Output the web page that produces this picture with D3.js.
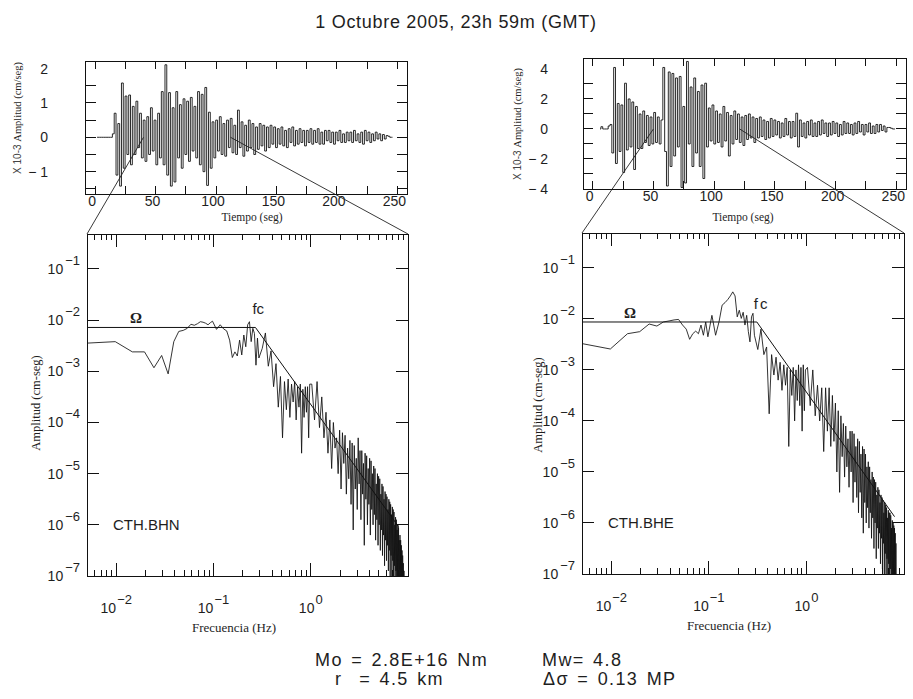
<!DOCTYPE html>
<html>
<head>
<meta charset="utf-8">
<script src="https://cdn.jsdelivr.net/npm/d3@7/dist/d3.min.js"></script>
<style>
  body { margin: 0; background: #fff; }
  .sans { font-family: 'Liberation Sans', Arial, sans-serif; }
  .serif { font-family: 'Liberation Serif', 'Times New Roman', serif; }
  text { fill: #1e1e1e; }
</style>
</head>
<body>
<svg id="chart" width="913" height="699"></svg>
<script>
// ---- data ----

// seismograms, velocity in 10^-3 cm/seg, one sample every 1.5 s
const sampleStep = 1.5
const bhnStart = 1.5
const bhnVelocity = [
  0, 0, 0, 0, 0, 0, 0, 0, 0,
  0.1, 0.7, -1.1, 0.4, -1.42, 1.58, -0.9, 1.2, -0.5, 1.23,
  -0.8, 0.9, -0.5, 1.05, -0.3, 0.7, -0.6, 0.5, -0.7, 0.6,
  -0.5, 0.86, -0.4, 0.5, -0.8, 0.7, -0.6, 1.33, -0.8, 2.11,
  -1.1, 1.3, -1.42, 0.86, -1.3, 1.33, -0.6, 0.95, -0.9, 1.12,
  -0.5, 1.05, -0.7, 1.16, -0.4, 0.9, -0.6, 1.33, -0.8, 1.25,
  -1.0, 1.45, -1.4, 0.73, -0.9, 0.45, -0.6, 0.5, -0.4, 0.6,
  -0.5, 0.4, -0.55, 0.5, -0.3, 0.55, -0.45, 0.35, -0.5, 0.79,
  -0.3, 0.45, -0.55, 0.35, -0.4, 0.5, -0.3, 0.4, -0.5, 0.3,
  -0.35, 0.4, -0.25, 0.35, -0.4, 0.3, -0.3, 0.35, -0.2, 0.3,
  -0.3, 0.25, -0.2, 0.3, -0.25, 0.2, -0.3, 0.25, -0.15, 0.3,
  -0.25, 0.2, -0.2, 0.25, -0.15, 0.2, -0.25, 0.2, -0.15, 0.25,
  -0.2, 0.2, -0.15, 0.25, -0.2, 0.15, -0.2, 0.2, -0.1, 0.2,
  -0.15, 0.15, -0.2, 0.15, -0.1, 0.2, -0.15, 0.1, -0.15, 0.15,
  -0.1, 0.15, -0.15, 0.2, -0.1, 0.1, -0.15, 0.15, -0.2, 0.2,
  -0.1, 0.15, -0.15, 0.1, -0.1, 0.15, -0.05, 0.1, -0.1, 0.08,
  -0.05, 0.05, 0.03, 0, 0
]
const bheStart = 6
const bheVelocity = [
  0, 0.15, 0, 0, 0, 0.2,
  0.3, -1.6, 4.1, -2.3, 1.7, -1.5, 1.6, -2.9, 3.05, -1.4,
  2.0, -1.2, 1.8, -2.7, 1.5, -1.3, 1.0, -1.3, 1.2, -0.9,
  0.9, -1.1, 0.8, -1.0, 1.1, -0.9, 0.8, -1.0, 0.6, 4.1,
  -1.5, -3.8, 3.8, -2.5, 3.7, -1.8, 3.4, -1.2, 3.5, -3.9,
  1.5, -3.6, 4.5, -1.0, 2.8, -2.5, 3.4, -1.6, 2.5, -2.5,
  2.93, -3.3, 3.05, -1.2, 1.4, -0.8, 1.6, -1.0, 1.2, -0.9,
  1.0, -1.2, 1.5, -0.8, 1.1, -1.8, 0.9, -1.0, 1.2, -0.7,
  1.0, -0.9, 0.8, -1.1, 0.9, -0.7, 1.0, -0.6, 0.8, -0.9,
  0.7, -0.6, 0.8, -0.5, 0.6, -0.7, 0.5, -0.6, 0.7, -0.5,
  0.6, -0.4, 0.5, -0.6, 0.4, -0.5, 0.7, -0.4, 0.5, -0.6,
  0.5, -0.5, 1.05, -1.2, 0.6, -0.5, 0.4, -0.6, 0.5, -0.4,
  0.6, -0.5, 0.4, -0.5, 0.5, -0.4, 0.6, -0.3, 0.4, -0.5,
  0.4, -0.4, 0.5, -0.3, 0.4, -0.5, 0.3, -0.4, 0.5, -0.3,
  0.4, -0.3, 0.3, -0.4, 0.4, -0.3, 0.5, -0.2, 0.3, -0.4,
  0.3, -0.2, 0.4, -0.3, 0.2, -0.3, 0.3, -0.2, 0.3, -0.1,
  0.2, -0.2, 0.1, 0.1, 0.05, 0, 0
]

const timeDomain = [-8, 258]
const timeTicks = [0, 25, 50, 75, 100, 125, 150, 175, 200, 225, 250]
const timeLabels = [0, 50, 100, 150, 200, 250]
const bhnVelDomain = [-1.65, 2.22]
const bhnVelTicks = [-1.5, -1, -0.5, 0, 0.5, 1, 1.5]
const bhnVelLabels = [-1, 0, 1, 2]
const bheVelDomain = [-4.0, 4.73]
const bheVelTicks = [-3, -2, -1, 0, 1, 2, 3]
const bheVelLabels = [-4, -2, 0, 2, 4]

// time window (s) used for each spectrum
const bhnWindow = [40, 112]
const bheWindow = [50, 121]

// displacement spectra, log10 amplitude (cm-seg) on FFT bins k, f = k * df
const df = 0.00488
const lowBins = [1, 2, 3, 4, 5, 6, 7, 8, 9, 10, 11, 12, 13, 14, 15, 16, 17, 18, 19, 20,
  22, 24, 26, 28, 30, 32, 34, 36, 38, 40, 42, 44, 46, 48, 50, 52, 54, 56, 58, 60]
const midBins = d3.range(65, 201, 5)
const highBins = d3.range(210, 1891, 14)

const bhnLow = [-2.45, -2.42, -2.62, -2.62, -2.93, -2.69, -3.05, -2.42, -2.22, -2.20,
  -2.16, -2.08, -2.10, -2.07, -2.03, -2.04, -2.06, -2.09, -2.05, -2.02,
  -2.18, -2.09, -2.17, -2.21, -2.39, -2.73, -2.62, -2.70, -2.39, -2.68,
  -2.29, -2.52, -2.09, -2.03, -2.42, -2.16, -2.26, -2.88, -2.35, -2.74]
const bhnMid = [-2.55, -2.25, -2.9, -2.6, -3.3, -2.85, -3.7, -3.1, -4.3, -3.2,
  -3.75, -3.15, -3.9, -3.25, -3.6, -3.2, -3.95, -3.3, -3.7, -3.25,
  -4.6, -3.35, -3.9, -3.3, -3.8, -3.3, -4.3, -3.25]
const bhnHigh = [
  -3.25, -3.95, -3.2, -4.1, -3.5, -4.3, -3.8, -4.6, -3.95, -4.9,
  -4.0, -4.5, -4.3, -5.0, -4.15, -5.3, -4.2, -4.8, -4.25, -5.4,
  -4.5, -5.1, -4.35, -5.6, -4.4, -6.1, -4.45, -5.3, -4.7, -5.7,
  -4.3, -5.2, -4.55, -5.9, -4.55, -5.4, -4.8, -6.4, -4.6, -5.5,
  -4.65, -6.0, -4.9, -5.6, -4.7, -6.2, -4.75, -5.7, -5.0, -6.0,
  -4.85, -5.8, -4.9, -6.3, -5.2, -5.9, -5.0, -6.4, -5.05, -6.0,
  -5.1, -6.5, -5.4, -6.1, -5.2, -6.6, -5.25, -6.2, -5.5, -6.8,
  -5.35, -6.3, -5.4, -6.7, -5.45, -6.4, -5.7, -6.9, -5.5, -6.5,
  -5.55, -7.0, -5.6, -6.6, -5.8, -7.1, -5.65, -6.7, -5.7, -7.2,
  -5.75, -6.8, -6.0, -7.3, -5.85, -6.9, -5.9, -7.3, -6.1, -7.0,
  -6.0, -7.4, -6.05, -7.1, -6.3, -7.5, -6.2, -7.2, -6.3, -7.5,
  -6.4, -7.4, -6.5, -7.6, -6.6, -7.5, -6.75, -7.6, -6.9, -7.6,
  -7.5
]

const bheLow = [-2.48, -2.59, -2.29, -2.25, -2.10, -2.14, -2.06, -2.04, -2.02, -2.01,
  -2.12, -2.20, -2.40, -2.29, -2.24, -2.29, -2.12, -2.32, -2.06, -2.35,
  -1.93, -2.32, -2.06, -1.73, -1.68, -1.62, -1.55, -1.47, -1.55, -1.96,
  -1.83, -1.99, -1.87, -2.12, -1.93, -2.25, -2.45, -1.96, -1.89, -2.32]
const bheMid = [-2.6, -2.2, -2.7, -2.55, -3.86, -2.7, -3.1, -2.75, -3.2, -2.85,
  -3.4, -2.9, -3.3, -2.95, -4.5, -3.0, -3.5, -2.95, -4.0, -3.0,
  -3.6, -2.9, -3.7, -2.95, -4.2, -2.9, -3.8, -3.0]
const bheHigh = [
  -2.95, -3.7, -3.0, -3.9, -3.3, -4.0, -3.35, -4.6, -3.35, -4.2,
  -3.35, -4.5, -3.5, -4.4, -3.65, -5.0, -3.8, -5.4, -3.9, -4.7,
  -4.05, -5.1, -4.1, -4.9, -4.35, -5.3, -4.2, -5.0, -4.2, -5.6,
  -4.25, -5.2, -4.5, -5.5, -4.35, -5.8, -4.4, -5.4, -4.65, -5.9,
  -4.5, -6.2, -4.55, -5.6, -4.65, -6.0, -4.9, -5.7, -4.8, -6.1,
  -4.9, -5.8, -5.15, -6.3, -5.0, -5.9, -5.1, -6.5, -5.15, -6.0,
  -5.2, -6.7, -5.45, -6.1, -5.3, -6.5, -5.35, -6.2, -5.6, -6.8,
  -5.45, -6.3, -5.5, -6.9, -5.55, -6.4, -5.8, -7.0, -5.6, -6.6,
  -5.65, -7.1, -5.7, -6.7, -5.9, -7.2, -5.75, -6.8, -5.8, -7.3,
  -5.8, -6.9, -5.85, -7.3, -6.1, -7.0, -5.95, -7.4, -6.0, -7.1,
  -6.05, -7.4, -6.1, -7.3, -6.2, -7.5, -6.4, -7.5, -7.5
]

// fitted source model: flat level, corner frequency, high-frequency fall-off
const bhnModelFreq = [0.005, 0.27, 8]
const bhnModelAmp = [7.2e-3, 7.2e-3, 9.2e-7]
const bheModelFreq = [0.005, 0.31, 8]
const bheModelAmp = [8.7e-3, 8.7e-3, 1.33e-6]

const freqDomain = [0.005, 10]
const ampDomain = [1e-7, 0.483]
const freqLabelExp = [-2, -1, 0]
const ampLabelExp = [-7, -6, -5, -4, -3, -2, -1]

// ---- drawing ----

const svg = d3.select('#chart')
const ink = '#111'

function drawFrame(g, box) {
  g.append('path')
    .attr('d', `M${ box.x0 },${ box.y0 }H${ box.x1 }V${ box.y1 }H${ box.x0 }Z`)
    .attr('fill', 'none').attr('stroke', ink).attr('stroke-width', 1)
    .attr('shape-rendering', 'crispEdges')
}

// inward ticks on one side of a frame, positions from the scale
function drawTicks(g, scale, values, side, box, len) {
  const d = values.map(v => {
    const p = scale(v)
    if (side === 'bottom') return `M${ p },${ box.y1 }v${ -len }`
    if (side === 'top') return `M${ p },${ box.y0 }v${ len }`
    if (side === 'left') return `M${ box.x0 },${ p }h${ len }`
    return `M${ box.x1 },${ p }h${ -len }`
  }).join('')
  g.append('path').attr('d', d)
    .attr('fill', 'none').attr('stroke', ink).attr('stroke-width', 1)
    .attr('shape-rendering', 'crispEdges')
}

function clipTo(id, box) {
  svg.append('clipPath').attr('id', id).append('rect')
    .attr('x', box.x0).attr('y', box.y0)
    .attr('width', box.x1 - box.x0).attr('height', box.y1 - box.y0)
  return `url(#${ id })`
}

function drawSeismogram(p) {
  const box = p.box
  const x = d3.scaleLinear().domain(timeDomain).range([box.x0, box.x1])
  const y = d3.scaleLinear().domain(p.yDomain).range([box.y1, box.y0])
  const g = svg.append('g')

  const data = p.values.map((v, i) => [p.start + i * sampleStep, v])
  g.append('path')
    .datum(data)
    .attr('clip-path', clipTo(p.id, box))
    .attr('fill', 'none').attr('stroke', '#111').attr('stroke-width', 0.9)
    .attr('d', d3.line().x(d => x(d[0])).y(d => y(d[1])).curve(d3.curveStep))

  g.selectAll('.tl').data(timeLabels).join('text')
    .attr('class', 'sans tl').attr('font-size', 14)
    .attr('x', d => x(d) - 3).attr('y', box.y1 + 12)
    .attr('text-anchor', 'middle')
    .text(d => d)

  g.selectAll('.vl').data(p.yLabels).join('text')
    .attr('class', 'sans vl').attr('font-size', 14)
    .attr('x', p.labelRight).attr('y', d => y(d) + 5)
    .attr('text-anchor', 'end')
    .text(d => d < 0 ? '− ' + Math.abs(d) : d)

  g.append('text')
    .attr('class', 'serif').attr('font-size', 11.5)
    .attr('x', p.timeTitleX).attr('y', 221)
    .attr('text-anchor', 'middle')
    .text('Tiempo (seg)')

  const yt = g.append('text')
    .attr('transform', `translate(${ p.ampTitle[0] },${ p.ampTitle[1] }) rotate(-90)`)
    .attr('text-anchor', 'middle')
  yt.append('tspan').attr('class', 'sans').attr('font-size', 10).attr('fill', '#444').text('X 10-3  ')
  yt.append('tspan').attr('class', 'serif').attr('font-size', 10.5).text('Amplitud (cm/seg)')

  // lines from the analysed window down to the spectrum frame
  const sb = p.specBox
  g.append('path')
    .attr('d', `M${ x(p.window[0]) },${ y(0) }L${ sb.x0 },${ sb.y0 }M${ x(p.window[1]) },${ y(0) }L${ sb.x1 },${ sb.y0 }`)
    .attr('fill', 'none').attr('stroke', '#222').attr('stroke-width', 0.9)

  drawTicks(g, x, timeTicks, 'bottom', box, 8)
  drawTicks(g, x, timeTicks, 'top', box, 8)
  drawTicks(g, y, p.yTicks, 'left', box, 10)
  drawTicks(g, y, p.yTicks, 'right', box, 10)
  drawFrame(g, box)
}

function drawSpectrum(p) {
  const box = p.box
  const x = d3.scaleLog().domain(freqDomain).range([box.x0, box.x1])
  const y = d3.scaleLog().domain(ampDomain).range([box.y1, box.y0])
  const g = svg.append('g')

  const points = [
    ...p.low.map((v, i) => [lowBins[i] * df, 10 ** v]),
    ...p.mid.map((v, i) => [midBins[i] * df, 10 ** v]),
    ...p.high.map((v, i) => [highBins[i] * df, 10 ** v])
  ]
  const clipUrl = clipTo(p.id, box)
  const line = d3.line().x(d => x(d[0])).y(d => y(d[1]))
  g.append('path').datum(points)
    .attr('clip-path', clipUrl)
    .attr('fill', 'none').attr('stroke', '#111').attr('stroke-width', 0.85)
    .attr('d', line)
  g.append('path').datum(p.modelFreq.map((f, i) => [f, p.modelAmp[i]]))
    .attr('clip-path', clipUrl)
    .attr('fill', 'none').attr('stroke', '#111').attr('stroke-width', 1)
    .attr('d', line)

  g.selectAll('.yl').data(ampLabelExp).join('text')
    .attr('class', 'sans yl').attr('font-size', 14)
    .attr('x', box.x0 - 7).attr('y', d => y(10 ** d) + 5)
    .attr('text-anchor', 'end')
    .each(function (d) {
      const t = d3.select(this)
      t.append('tspan').text('10')
      t.append('tspan').attr('dx', 2).attr('dy', -9).attr('font-size', 13).text('−' + Math.abs(d))
    })

  g.selectAll('.xl').data(freqLabelExp).join('text')
    .attr('class', 'sans xl').attr('font-size', 14)
    .attr('x', d => x(10 ** d)).attr('y', box.y1 + 37)
    .attr('text-anchor', 'middle')
    .each(function (d) {
      const t = d3.select(this)
      t.append('tspan').text('10')
      t.append('tspan').attr('dx', 1).attr('dy', -9).attr('font-size', 13).text(d < 0 ? '−' + Math.abs(d) : d)
    })

  g.append('text')
    .attr('class', 'serif').attr('font-size', 13)
    .attr('x', p.freqTitleX).attr('y', box.y1 + 56)
    .attr('text-anchor', 'middle')
    .text('Frecuencia (Hz)')

  g.append('text')
    .attr('class', 'serif').attr('font-size', 12.5)
    .attr('transform', `translate(${ p.ampTitle[0] },${ p.ampTitle[1] }) rotate(-90)`)
    .attr('text-anchor', 'middle')
    .text('Amplitud (cm-seg)')

  // flat level and corner frequency marks
  g.append('text')
    .attr('class', 'serif').attr('font-size', 15).attr('font-weight', 'bold')
    .attr('x', x(p.omegaAt)).attr('y', y(p.modelAmp[0]) - 4)
    .attr('text-anchor', 'middle')
    .text('Ω')
  g.append('text')
    .attr('class', 'sans').attr('font-size', 15)
    .attr('x', x(p.modelFreq[1]) - 3).attr('y', y(p.modelAmp[1]) - 13)
    .attr('letter-spacing', p.fcSpacing)
    .text('fc')

  g.append('text')
    .attr('class', 'sans').attr('font-size', 15)
    .attr('x', box.x0 + 26).attr('y', y(1e-6) + 5)
    .text(p.station)

  const isMajor = d => Math.abs(Math.log10(d) - Math.round(Math.log10(d))) < 1e-6
  const freqTicks = x.ticks()
  const major = freqTicks.filter(isMajor)
  const minor = freqTicks.filter(d => !isMajor(d))
  const decades = ampLabelExp.map(e => 10 ** e)

  drawTicks(g, x, minor, 'bottom', box, 6)
  drawTicks(g, x, major, 'bottom', box, 13)
  drawTicks(g, x, minor, 'top', box, 6)
  drawTicks(g, x, major, 'top', box, 13)
  drawTicks(g, y, decades, 'left', box, 12)
  drawTicks(g, y, decades, 'right', box, 12)
  drawFrame(g, box)
}

const bhnSpecBox = { x0: 87, x1: 408, y0: 234, y1: 576 }
const bheSpecBox = { x0: 582, x1: 904, y0: 233, y1: 574 }

drawSeismogram({
  id: 'clip-bhn-t', box: { x0: 85.5, x1: 407, y0: 61, y1: 194 },
  start: bhnStart, values: bhnVelocity,
  yDomain: bhnVelDomain, yTicks: bhnVelTicks, yLabels: bhnVelLabels,
  labelRight: 48, timeTitleX: 252, ampTitle: [21, 118],
  window: bhnWindow, specBox: bhnSpecBox
})
drawSeismogram({
  id: 'clip-bhe-t', box: { x0: 583, x1: 906, y0: 58, y1: 189 },
  start: bheStart, values: bheVelocity,
  yDomain: bheVelDomain, yTicks: bheVelTicks, yLabels: bheVelLabels,
  labelRight: 548, timeTitleX: 743, ampTitle: [521, 124],
  window: bheWindow, specBox: bheSpecBox
})

drawSpectrum({
  id: 'clip-bhn-f', box: bhnSpecBox,
  low: bhnLow, mid: bhnMid, high: bhnHigh,
  modelFreq: bhnModelFreq, modelAmp: bhnModelAmp,
  omegaAt: 0.016, fcSpacing: 0, station: 'CTH.BHN',
  freqTitleX: 234, ampTitle: [40, 403]
})
drawSpectrum({
  id: 'clip-bhe-f', box: bheSpecBox,
  low: bheLow, mid: bheMid, high: bheHigh,
  modelFreq: bheModelFreq, modelAmp: bheModelAmp,
  omegaAt: 0.0155, fcSpacing: 2, station: 'CTH.BHE',
  freqTitleX: 729, ampTitle: [542, 405]
})

// title and source parameters
svg.append('text')
  .attr('class', 'sans').attr('font-size', 18)
  .attr('x', 456).attr('y', 28).attr('text-anchor', 'middle')
  .attr('letter-spacing', 0.7)
  .text('1 Octubre 2005, 23h 59m (GMT)')

const params = [
  { x: 315, y: 666, text: 'Mo = 2.8E+16 Nm' },
  { x: 542, y: 666, text: 'Mw= 4.8' },
  { x: 335, y: 685, text: 'r  = 4.5 km' },
  { x: 543, y: 685, text: 'Δσ = 0.13 MP' }
]
svg.selectAll('.param').data(params).join('text')
  .attr('class', 'sans param').attr('font-size', 18)
  .attr('letter-spacing', 1.4).attr('word-spacing', 2)
  .attr('x', d => d.x).attr('y', d => d.y)
  .style('white-space', 'pre')
  .text(d => d.text)
</script>
</body>
</html>
